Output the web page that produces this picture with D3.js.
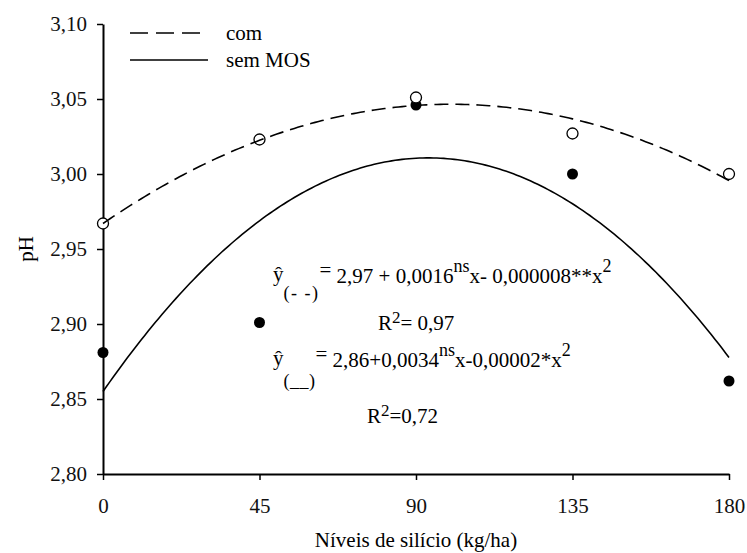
<!DOCTYPE html>
<html>
<head>
<meta charset="utf-8">
<script src="https://cdn.jsdelivr.net/npm/d3@7"></script>
<style>
  body { margin: 0; background: #fff; }
</style>
</head>
<body>
<div id="chart"></div>
<script>
// doses of silicon (kg/ha) and measured pH
const doses = [0, 45, 90, 135, 180];
const phCom = [2.967, 3.023, 3.051, 3.027, 3.000];
const phSem = [2.881, 2.901, 3.046, 3.000, 2.862];

// quadratic fits as drawn: [a, b, c] for a + b x + c x^2
const fitCom = [2.967, 0.00159, -0.00000795];
const fitSem = [2.855, 0.00333, -0.0000178];

const xTicks = [0, 45, 90, 135, 180];
const yTicks = [2.80, 2.85, 2.90, 2.95, 3.00, 3.05, 3.10];
const yTickLabels = ["2,80", "2,85", "2,90", "2,95", "3,00", "3,05", "3,10"];

const FONT = "Liberation Serif";
const W = 747, H = 553;
const svg = d3.select("#chart").append("svg").attr("width", W).attr("height", H)
  .style("display", "block").attr("font-family", FONT);

const x = d3.scaleLinear().domain([0, 180]).range([103, 729]);
const y = d3.scaleLinear().domain([2.80, 3.10]).range([474, 24]);

// axes
const xAxis = svg.append("g")
  .attr("transform", `translate(0,${y(2.80)})`)
  .call(d3.axisBottom(x).tickValues(xTicks).tickSize(6).tickSizeOuter(0).tickPadding(18)
    .tickFormat(d => String(d)));

const yAxis = svg.append("g")
  .attr("transform", `translate(${x(0)},0)`)
  .call(d3.axisLeft(y).tickValues(yTicks).tickSize(6).tickSizeOuter(0).tickPadding(10)
    .tickFormat((d, i) => yTickLabels[i]));

[xAxis, yAxis].forEach(g => {
  g.attr("font-family", FONT).attr("font-size", 21);
  g.select(".domain").attr("stroke", "#000").attr("stroke-width", 2);
  g.selectAll(".tick line").attr("stroke", "#000").attr("stroke-width", 1.5);
  g.selectAll(".tick text").attr("fill", "#111");
});

// axis titles
svg.append("text")
  .attr("transform", "translate(33,249) rotate(-90)")
  .attr("text-anchor", "middle")
  .attr("font-size", 21)
  .text("pH");

svg.append("text")
  .attr("x", 416).attr("y", 547)
  .attr("text-anchor", "middle")
  .attr("font-size", 21)
  .text("Níveis de silício (kg/ha)");

// points: filled first, open on top
svg.append("g").selectAll("circle")
  .data(doses.map((d, i) => [d, phSem[i]]))
  .join("circle")
  .attr("cx", d => x(d[0])).attr("cy", d => y(d[1]))
  .attr("r", 5.5).attr("fill", "#000");

svg.append("g").selectAll("circle")
  .data(doses.map((d, i) => [d, phCom[i]]))
  .join("circle")
  .attr("cx", d => x(d[0])).attr("cy", d => y(d[1]))
  .attr("r", 5.5).attr("fill", "#fff").attr("stroke", "#000").attr("stroke-width", 1.3);

// fitted curves
const quad = c => v => c[0] + c[1] * v + c[2] * v * v;
const xs = d3.range(0, 180.5, 1);
const line = d3.line().x(d => x(d[0])).y(d => y(d[1]));

svg.append("path")
  .attr("d", line(xs.map(v => [v, quad(fitCom)(v)])))
  .attr("fill", "none").attr("stroke", "#000").attr("stroke-width", 1.6)
  .attr("stroke-dasharray", "14,7");

svg.append("path")
  .attr("d", line(xs.map(v => [v, quad(fitSem)(v)])))
  .attr("fill", "none").attr("stroke", "#000").attr("stroke-width", 1.6);

// legend
const legend = svg.append("g");
legend.append("line").attr("x1", 130).attr("x2", 200).attr("y1", 33).attr("y2", 33)
  .attr("stroke", "#000").attr("stroke-width", 1.6).attr("stroke-dasharray", "18,8");
legend.append("line").attr("x1", 130).attr("x2", 208).attr("y1", 60).attr("y2", 60)
  .attr("stroke", "#000").attr("stroke-width", 1.6);
legend.append("text").attr("x", 226).attr("y", 40).attr("font-size", 21).text("com");
legend.append("text").attr("x", 226).attr("y", 67).attr("font-size", 21).text("sem MOS");

// equations
function rich(x0, y0, parts) {
  const t = svg.append("text").attr("x", x0).attr("y", y0).attr("xml:space", "preserve");
  let prev = 0;
  parts.forEach(p => {
    const ts = t.append("tspan")
      .attr("dy", (p.shift || 0) - prev)
      .attr("font-size", p.size || 21)
      .text(p.t);
    if (p.ls) ts.attr("letter-spacing", p.ls);
    prev = p.shift || 0;
  });
}

rich(273, 283, [
  { t: "ŷ", shift: -2 },
  { t: "(- -)", shift: 16, size: 18, ls: 1.5 },
  { t: "=", shift: -6 },
  { t: " 2,97 + 0,0016" },
  { t: "ns", shift: -11, size: 18 },
  { t: "x- 0,000008**x" },
  { t: "2", shift: -11, size: 18 }
]);
rich(378, 330, [
  { t: "R" },
  { t: "2", shift: -7, size: 17 },
  { t: "= 0,97" }
]);
rich(273, 367, [
  { t: "ŷ", shift: -2 },
  { t: "(__)", shift: 20, size: 18, ls: 0.5 },
  { t: "=", shift: -6 },
  { t: " 2,86+0,0034" },
  { t: "ns", shift: -11, size: 18 },
  { t: "x-0,00002*x" },
  { t: "2", shift: -11, size: 18 }
]);
rich(367, 423, [
  { t: "R" },
  { t: "2", shift: -7, size: 17 },
  { t: "=0,72" }
]);
</script>
</body>
</html>
